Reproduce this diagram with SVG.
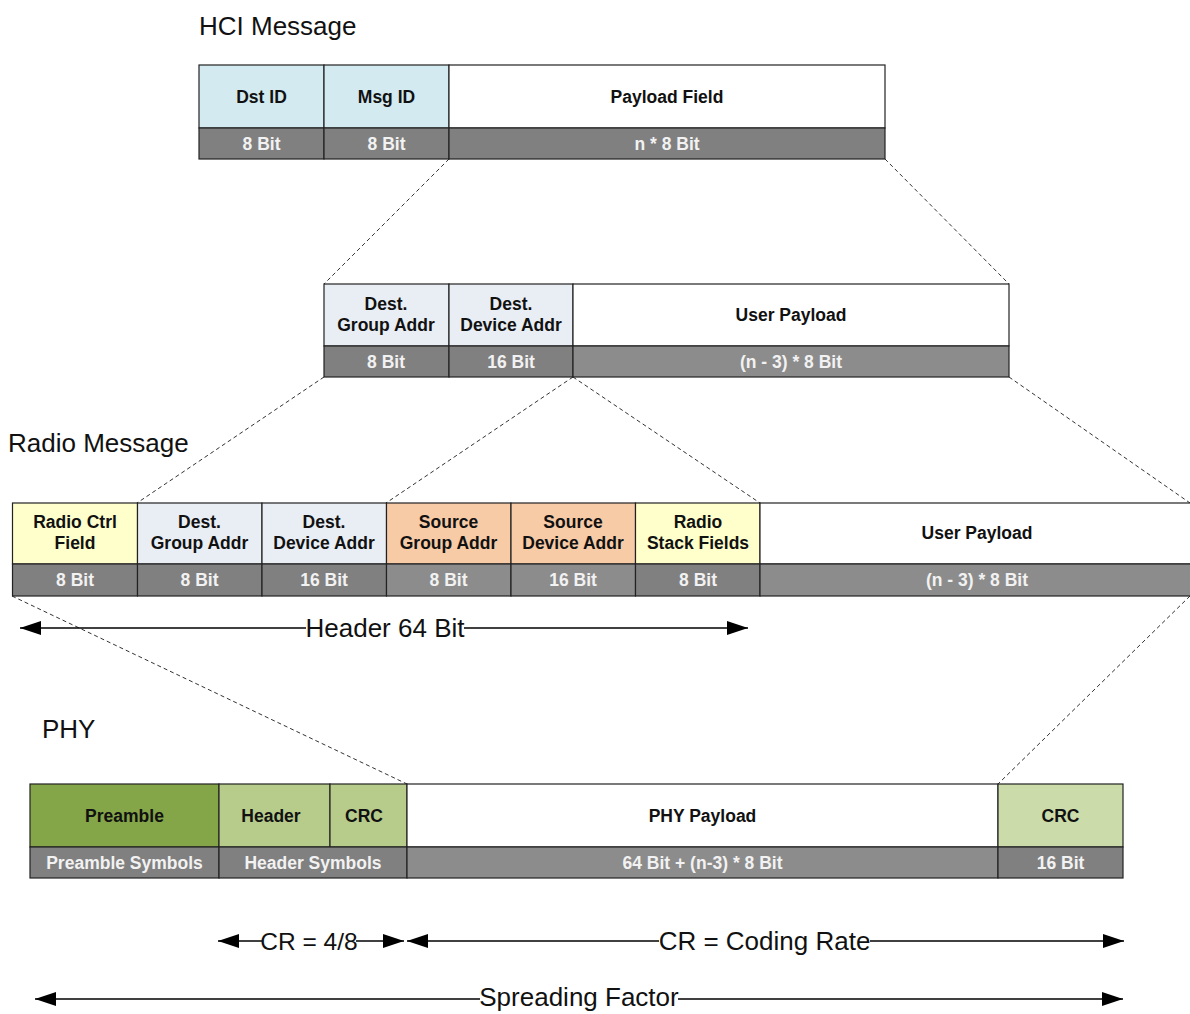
<svg xmlns="http://www.w3.org/2000/svg" width="1190" height="1014" viewBox="0 0 1190 1014">
<style>
.cell{stroke:#222;stroke-width:1.2}
.lbl{font-family:"Liberation Sans",Arial,sans-serif;font-weight:bold;font-size:17.5px;fill:#111;text-anchor:middle}
.bit{font-family:"Liberation Sans",Arial,sans-serif;font-weight:bold;font-size:17.5px;fill:#f2f2f2;text-anchor:middle}
.title{font-family:"Liberation Sans",Arial,sans-serif;font-size:26px;fill:#111}
.dim{font-family:"Liberation Sans",Arial,sans-serif;font-size:26px;fill:#111;text-anchor:middle}
.dash{stroke:#333;stroke-width:1;stroke-dasharray:4 3;fill:none}
.arr{stroke:#000;stroke-width:1.5;fill:none}
.g1{fill:#808080}.g2{fill:#8c8c8c}
.blue{fill:#d2eaf0}.pale{fill:#e9eef5}.yel{fill:#ffffcc}.peach{fill:#f8cba7}.wh{fill:#fff}
.pre{fill:#84a548}.hdr{fill:#b7cc8b}.crc{fill:#cbdba9}
</style>
<defs>
<marker id="ah" markerUnits="userSpaceOnUse" markerWidth="22" markerHeight="14" refX="21" refY="7" orient="auto-start-reverse">
<path d="M0,0 L21,7 L0,14 Z" fill="#000"/>
</marker>
</defs>
<rect x="0" y="0" width="1190" height="1014" fill="#fff"/>

<text class="title" x="199" y="35">HCI Message</text>
<text class="title" x="8" y="452">Radio Message</text>
<text class="title" x="42" y="738">PHY</text>

<g id="connectors">
<line class="dash" x1="449" y1="159" x2="324" y2="284"/>
<line class="dash" x1="885" y1="159" x2="1009" y2="284"/>
<line class="dash" x1="324" y1="377" x2="137" y2="503"/>
<line class="dash" x1="573" y1="377" x2="386" y2="503"/>
<line class="dash" x1="573" y1="377" x2="760" y2="503"/>
<line class="dash" x1="1009" y1="377" x2="1190" y2="503"/>
<line class="dash" x1="12" y1="596" x2="407" y2="784"/>
<line class="dash" x1="1190" y1="596" x2="998" y2="784"/>
</g>

<g id="hci">
<rect class="cell blue" x="199" y="65" width="125" height="63"/>
<rect class="cell blue" x="324" y="65" width="125" height="63"/>
<rect class="cell wh" x="449" y="65" width="436" height="63"/>
<rect class="cell g1" x="199" y="128" width="125" height="31"/>
<rect class="cell g1" x="324" y="128" width="125" height="31"/>
<rect class="cell g1" x="449" y="128" width="436" height="31"/>
<text class="lbl" x="261.5" y="103">Dst ID</text>
<text class="lbl" x="386.5" y="103">Msg ID</text>
<text class="lbl" x="667" y="103">Payload Field</text>
<text class="bit" x="261.5" y="150">8 Bit</text>
<text class="bit" x="386.5" y="150">8 Bit</text>
<text class="bit" x="667" y="150">n * 8 Bit</text>
</g>

<g id="payload">
<rect class="cell pale" x="324" y="284" width="125" height="62"/>
<rect class="cell pale" x="449" y="284" width="124" height="62"/>
<rect class="cell wh" x="573" y="284" width="436" height="62"/>
<rect class="cell g1" x="324" y="346" width="125" height="31"/>
<rect class="cell g1" x="449" y="346" width="124" height="31"/>
<rect class="cell g2" x="573" y="346" width="436" height="31"/>
<text class="lbl" x="386" y="310">Dest.</text>
<text class="lbl" x="386" y="331">Group Addr</text>
<text class="lbl" x="511" y="310">Dest.</text>
<text class="lbl" x="511" y="331">Device Addr</text>
<text class="lbl" x="791" y="321">User Payload</text>
<text class="bit" x="386" y="368">8 Bit</text>
<text class="bit" x="511" y="368">16 Bit</text>
<text class="bit" x="791" y="368">(n - 3) * 8 Bit</text>
</g>

<g id="radio">
<rect class="cell yel" x="12.5" y="503" width="125" height="61"/>
<rect class="cell pale" x="137.5" y="503" width="124.5" height="61"/>
<rect class="cell pale" x="262" y="503" width="124.5" height="61"/>
<rect class="cell peach" x="386.5" y="503" width="124.5" height="61"/>
<rect class="cell peach" x="511" y="503" width="124.5" height="61"/>
<rect class="cell yel" x="635.5" y="503" width="124.5" height="61"/>
<rect class="cell wh" x="760" y="503" width="435" height="61"/>
<rect class="cell g1" x="12.5" y="564" width="125" height="32"/>
<rect class="cell g1" x="137.5" y="564" width="124.5" height="32"/>
<rect class="cell g1" x="262" y="564" width="124.5" height="32"/>
<rect class="cell g2" x="386.5" y="564" width="124.5" height="32"/>
<rect class="cell g2" x="511" y="564" width="124.5" height="32"/>
<rect class="cell g1" x="635.5" y="564" width="124.5" height="32"/>
<rect class="cell g2" x="760" y="564" width="435" height="32"/>
<text class="lbl" x="75" y="528">Radio Ctrl</text>
<text class="lbl" x="75" y="549">Field</text>
<text class="lbl" x="199.5" y="528">Dest.</text>
<text class="lbl" x="199.5" y="549">Group Addr</text>
<text class="lbl" x="324" y="528">Dest.</text>
<text class="lbl" x="324" y="549">Device Addr</text>
<text class="lbl" x="448.5" y="528">Source</text>
<text class="lbl" x="448.5" y="549">Group Addr</text>
<text class="lbl" x="573" y="528">Source</text>
<text class="lbl" x="573" y="549">Device Addr</text>
<text class="lbl" x="698" y="528">Radio</text>
<text class="lbl" x="698" y="549">Stack Fields</text>
<text class="lbl" x="977" y="539">User Payload</text>
<text class="bit" x="75" y="586">8 Bit</text>
<text class="bit" x="199.5" y="586">8 Bit</text>
<text class="bit" x="324" y="586">16 Bit</text>
<text class="bit" x="448.5" y="586">8 Bit</text>
<text class="bit" x="573" y="586">16 Bit</text>
<text class="bit" x="698" y="586">8 Bit</text>
<text class="bit" x="977" y="586">(n - 3) * 8 Bit</text>
</g>

<g id="header-dim">
<line class="arr" x1="306" y1="628" x2="20" y2="628" marker-end="url(#ah)"/>
<line class="arr" x1="464" y1="628" x2="748" y2="628" marker-end="url(#ah)"/>
<text class="dim" x="385" y="637">Header 64 Bit</text>
</g>

<g id="phy">
<rect class="cell pre" x="30" y="784" width="189" height="63"/>
<rect class="cell hdr" x="219" y="784" width="111" height="63"/>
<rect class="cell hdr" x="330" y="784" width="77" height="63"/>
<rect class="cell wh" x="407" y="784" width="591" height="63"/>
<rect class="cell crc" x="998" y="784" width="125" height="63"/>
<rect class="cell g1" x="30" y="847" width="189" height="31"/>
<rect class="cell g1" x="219" y="847" width="188" height="31"/>
<rect class="cell g2" x="407" y="847" width="591" height="31"/>
<rect class="cell g1" x="998" y="847" width="125" height="31"/>
<text class="lbl" x="124.5" y="822">Preamble</text>
<text class="lbl" x="271" y="822">Header</text>
<text class="lbl" x="364" y="822">CRC</text>
<text class="lbl" x="702.5" y="822">PHY Payload</text>
<text class="lbl" x="1060.5" y="822">CRC</text>
<text class="bit" x="124.5" y="869">Preamble Symbols</text>
<text class="bit" x="313" y="869">Header Symbols</text>
<text class="bit" x="702.5" y="869">64 Bit + (n-3) * 8 Bit</text>
<text class="bit" x="1060.5" y="869">16 Bit</text>
</g>

<g id="cr-dim">
<line class="arr" x1="262" y1="941" x2="218" y2="941" marker-end="url(#ah)"/>
<line class="arr" x1="356" y1="941" x2="404" y2="941" marker-end="url(#ah)"/>
<text class="dim" x="309" y="950" style="font-size:24.5px">CR = 4/8</text>
<line class="arr" x1="659" y1="941" x2="407" y2="941" marker-end="url(#ah)"/>
<line class="arr" x1="870" y1="941" x2="1124" y2="941" marker-end="url(#ah)"/>
<text class="dim" x="764.5" y="950">CR = Coding Rate</text>
</g>

<g id="sf-dim">
<line class="arr" x1="480" y1="999" x2="35" y2="999" marker-end="url(#ah)"/>
<line class="arr" x1="678" y1="999" x2="1123" y2="999" marker-end="url(#ah)"/>
<text class="dim" x="579" y="1006">Spreading Factor</text>
</g>
</svg>
